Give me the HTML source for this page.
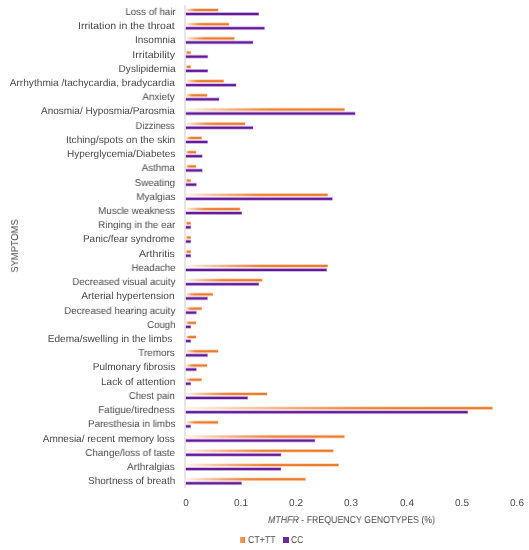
<!DOCTYPE html>
<html><head><meta charset="utf-8"><style>
html,body{margin:0;padding:0;background:#fff;}
body{width:529px;height:550px;position:relative;overflow:hidden;font-family:"Liberation Sans",sans-serif;color:#494949;text-rendering:geometricPrecision;}
div{position:absolute;}
.lb,.tk,.xt,.yt,.lg{will-change:transform;}
.lb{right:353.80px;font-size:10.0px;line-height:0;white-space:nowrap;transform-origin:100% 50%;}
.tk{top:504.1px;font-size:10.0px;line-height:0;transform:translate(-50%,0);}
.xt{left:267.7px;top:520.7px;font-size:10.0px;line-height:0;white-space:nowrap;transform-origin:0 0;transform:scaleX(0.88);}
.yt{left:15.5px;top:245.7px;font-size:10.0px;line-height:0;white-space:nowrap;transform:translate(-50%,0) rotate(-90deg) scaleX(0.93);}
.lg{top:540.9px;font-size:10.0px;line-height:0;white-space:nowrap;transform-origin:0 0;}
.sq{width:5.5px;height:5.5px;}
</style></head><body>
<svg width="529" height="550" style="position:absolute;left:0;top:0">
<defs><linearGradient id="og0" x1="0" y1="0" x2="1" y2="0"><stop offset="0.000" stop-color="#fdf3ec"/><stop offset="0.090" stop-color="#f8caa9"/><stop offset="0.180" stop-color="#f3a673"/><stop offset="0.288" stop-color="#ee8439"/><stop offset="0.360" stop-color="#ed7d31"/><stop offset="0.600" stop-color="#ec7a2d"/></linearGradient><linearGradient id="og1" x1="0" y1="0" x2="1" y2="0"><stop offset="0.000" stop-color="#fdf3ec"/><stop offset="0.101" stop-color="#f8caa9"/><stop offset="0.201" stop-color="#f3a673"/><stop offset="0.322" stop-color="#ee8439"/><stop offset="0.403" stop-color="#ed7d31"/><stop offset="0.671" stop-color="#ec7a2d"/></linearGradient><linearGradient id="og2" x1="0" y1="0" x2="1" y2="0"><stop offset="0.000" stop-color="#fdf3ec"/><stop offset="0.108" stop-color="#f8caa9"/><stop offset="0.215" stop-color="#f3a673"/><stop offset="0.345" stop-color="#ee8439"/><stop offset="0.431" stop-color="#ed7d31"/><stop offset="0.718" stop-color="#ec7a2d"/></linearGradient><linearGradient id="og3" x1="0" y1="0" x2="1" y2="0"><stop offset="0.000" stop-color="#fdf3ec"/><stop offset="0.090" stop-color="#f8caa9"/><stop offset="0.180" stop-color="#f3a673"/><stop offset="0.288" stop-color="#ee8439"/><stop offset="0.360" stop-color="#ed7d31"/><stop offset="0.600" stop-color="#ec7a2d"/></linearGradient><linearGradient id="og4" x1="0" y1="0" x2="1" y2="0"><stop offset="0.000" stop-color="#fdf3ec"/><stop offset="0.090" stop-color="#f8caa9"/><stop offset="0.180" stop-color="#f3a673"/><stop offset="0.288" stop-color="#ee8439"/><stop offset="0.360" stop-color="#ed7d31"/><stop offset="0.600" stop-color="#ec7a2d"/></linearGradient><linearGradient id="og5" x1="0" y1="0" x2="1" y2="0"><stop offset="0.000" stop-color="#fdf3ec"/><stop offset="0.094" stop-color="#f8caa9"/><stop offset="0.187" stop-color="#f3a673"/><stop offset="0.300" stop-color="#ee8439"/><stop offset="0.374" stop-color="#ed7d31"/><stop offset="0.624" stop-color="#ec7a2d"/></linearGradient><linearGradient id="og6" x1="0" y1="0" x2="1" y2="0"><stop offset="0.000" stop-color="#fdf3ec"/><stop offset="0.090" stop-color="#f8caa9"/><stop offset="0.180" stop-color="#f3a673"/><stop offset="0.288" stop-color="#ee8439"/><stop offset="0.360" stop-color="#ed7d31"/><stop offset="0.600" stop-color="#ec7a2d"/></linearGradient><linearGradient id="og7" x1="0" y1="0" x2="1" y2="0"><stop offset="0.000" stop-color="#fdf3ec"/><stop offset="0.161" stop-color="#f8caa9"/><stop offset="0.321" stop-color="#f3a673"/><stop offset="0.514" stop-color="#ee8439"/><stop offset="0.643" stop-color="#ed7d31"/><stop offset="1.000" stop-color="#ec7a2d"/></linearGradient><linearGradient id="og8" x1="0" y1="0" x2="1" y2="0"><stop offset="0.000" stop-color="#fdf3ec"/><stop offset="0.122" stop-color="#f8caa9"/><stop offset="0.244" stop-color="#f3a673"/><stop offset="0.391" stop-color="#ee8439"/><stop offset="0.489" stop-color="#ed7d31"/><stop offset="0.814" stop-color="#ec7a2d"/></linearGradient><linearGradient id="og9" x1="0" y1="0" x2="1" y2="0"><stop offset="0.000" stop-color="#fdf3ec"/><stop offset="0.090" stop-color="#f8caa9"/><stop offset="0.180" stop-color="#f3a673"/><stop offset="0.288" stop-color="#ee8439"/><stop offset="0.360" stop-color="#ed7d31"/><stop offset="0.600" stop-color="#ec7a2d"/></linearGradient><linearGradient id="og10" x1="0" y1="0" x2="1" y2="0"><stop offset="0.000" stop-color="#fdf3ec"/><stop offset="0.090" stop-color="#f8caa9"/><stop offset="0.180" stop-color="#f3a673"/><stop offset="0.288" stop-color="#ee8439"/><stop offset="0.360" stop-color="#ed7d31"/><stop offset="0.600" stop-color="#ec7a2d"/></linearGradient><linearGradient id="og11" x1="0" y1="0" x2="1" y2="0"><stop offset="0.000" stop-color="#fdf3ec"/><stop offset="0.090" stop-color="#f8caa9"/><stop offset="0.180" stop-color="#f3a673"/><stop offset="0.288" stop-color="#ee8439"/><stop offset="0.360" stop-color="#ed7d31"/><stop offset="0.600" stop-color="#ec7a2d"/></linearGradient><linearGradient id="og12" x1="0" y1="0" x2="1" y2="0"><stop offset="0.000" stop-color="#fdf3ec"/><stop offset="0.090" stop-color="#f8caa9"/><stop offset="0.180" stop-color="#f3a673"/><stop offset="0.288" stop-color="#ee8439"/><stop offset="0.360" stop-color="#ed7d31"/><stop offset="0.600" stop-color="#ec7a2d"/></linearGradient><linearGradient id="og13" x1="0" y1="0" x2="1" y2="0"><stop offset="0.000" stop-color="#fdf3ec"/><stop offset="0.158" stop-color="#f8caa9"/><stop offset="0.317" stop-color="#f3a673"/><stop offset="0.507" stop-color="#ee8439"/><stop offset="0.634" stop-color="#ed7d31"/><stop offset="1.000" stop-color="#ec7a2d"/></linearGradient><linearGradient id="og14" x1="0" y1="0" x2="1" y2="0"><stop offset="0.000" stop-color="#fdf3ec"/><stop offset="0.115" stop-color="#f8caa9"/><stop offset="0.231" stop-color="#f3a673"/><stop offset="0.369" stop-color="#ee8439"/><stop offset="0.461" stop-color="#ed7d31"/><stop offset="0.769" stop-color="#ec7a2d"/></linearGradient><linearGradient id="og15" x1="0" y1="0" x2="1" y2="0"><stop offset="0.000" stop-color="#fdf3ec"/><stop offset="0.090" stop-color="#f8caa9"/><stop offset="0.180" stop-color="#f3a673"/><stop offset="0.288" stop-color="#ee8439"/><stop offset="0.360" stop-color="#ed7d31"/><stop offset="0.600" stop-color="#ec7a2d"/></linearGradient><linearGradient id="og16" x1="0" y1="0" x2="1" y2="0"><stop offset="0.000" stop-color="#fdf3ec"/><stop offset="0.090" stop-color="#f8caa9"/><stop offset="0.180" stop-color="#f3a673"/><stop offset="0.288" stop-color="#ee8439"/><stop offset="0.360" stop-color="#ed7d31"/><stop offset="0.600" stop-color="#ec7a2d"/></linearGradient><linearGradient id="og17" x1="0" y1="0" x2="1" y2="0"><stop offset="0.000" stop-color="#fdf3ec"/><stop offset="0.090" stop-color="#f8caa9"/><stop offset="0.180" stop-color="#f3a673"/><stop offset="0.288" stop-color="#ee8439"/><stop offset="0.360" stop-color="#ed7d31"/><stop offset="0.600" stop-color="#ec7a2d"/></linearGradient><linearGradient id="og18" x1="0" y1="0" x2="1" y2="0"><stop offset="0.000" stop-color="#fdf3ec"/><stop offset="0.158" stop-color="#f8caa9"/><stop offset="0.317" stop-color="#f3a673"/><stop offset="0.507" stop-color="#ee8439"/><stop offset="0.634" stop-color="#ed7d31"/><stop offset="1.000" stop-color="#ec7a2d"/></linearGradient><linearGradient id="og19" x1="0" y1="0" x2="1" y2="0"><stop offset="0.000" stop-color="#fdf3ec"/><stop offset="0.145" stop-color="#f8caa9"/><stop offset="0.290" stop-color="#f3a673"/><stop offset="0.463" stop-color="#ee8439"/><stop offset="0.579" stop-color="#ed7d31"/><stop offset="0.965" stop-color="#ec7a2d"/></linearGradient><linearGradient id="og20" x1="0" y1="0" x2="1" y2="0"><stop offset="0.000" stop-color="#fdf3ec"/><stop offset="0.090" stop-color="#f8caa9"/><stop offset="0.180" stop-color="#f3a673"/><stop offset="0.288" stop-color="#ee8439"/><stop offset="0.360" stop-color="#ed7d31"/><stop offset="0.600" stop-color="#ec7a2d"/></linearGradient><linearGradient id="og21" x1="0" y1="0" x2="1" y2="0"><stop offset="0.000" stop-color="#fdf3ec"/><stop offset="0.090" stop-color="#f8caa9"/><stop offset="0.180" stop-color="#f3a673"/><stop offset="0.288" stop-color="#ee8439"/><stop offset="0.360" stop-color="#ed7d31"/><stop offset="0.600" stop-color="#ec7a2d"/></linearGradient><linearGradient id="og22" x1="0" y1="0" x2="1" y2="0"><stop offset="0.000" stop-color="#fdf3ec"/><stop offset="0.090" stop-color="#f8caa9"/><stop offset="0.180" stop-color="#f3a673"/><stop offset="0.288" stop-color="#ee8439"/><stop offset="0.360" stop-color="#ed7d31"/><stop offset="0.600" stop-color="#ec7a2d"/></linearGradient><linearGradient id="og23" x1="0" y1="0" x2="1" y2="0"><stop offset="0.000" stop-color="#fdf3ec"/><stop offset="0.090" stop-color="#f8caa9"/><stop offset="0.180" stop-color="#f3a673"/><stop offset="0.288" stop-color="#ee8439"/><stop offset="0.360" stop-color="#ed7d31"/><stop offset="0.600" stop-color="#ec7a2d"/></linearGradient><linearGradient id="og24" x1="0" y1="0" x2="1" y2="0"><stop offset="0.000" stop-color="#fdf3ec"/><stop offset="0.090" stop-color="#f8caa9"/><stop offset="0.180" stop-color="#f3a673"/><stop offset="0.288" stop-color="#ee8439"/><stop offset="0.360" stop-color="#ed7d31"/><stop offset="0.600" stop-color="#ec7a2d"/></linearGradient><linearGradient id="og25" x1="0" y1="0" x2="1" y2="0"><stop offset="0.000" stop-color="#fdf3ec"/><stop offset="0.090" stop-color="#f8caa9"/><stop offset="0.180" stop-color="#f3a673"/><stop offset="0.288" stop-color="#ee8439"/><stop offset="0.360" stop-color="#ed7d31"/><stop offset="0.600" stop-color="#ec7a2d"/></linearGradient><linearGradient id="og26" x1="0" y1="0" x2="1" y2="0"><stop offset="0.000" stop-color="#fdf3ec"/><stop offset="0.090" stop-color="#f8caa9"/><stop offset="0.180" stop-color="#f3a673"/><stop offset="0.288" stop-color="#ee8439"/><stop offset="0.360" stop-color="#ed7d31"/><stop offset="0.600" stop-color="#ec7a2d"/></linearGradient><linearGradient id="og27" x1="0" y1="0" x2="1" y2="0"><stop offset="0.000" stop-color="#fdf3ec"/><stop offset="0.150" stop-color="#f8caa9"/><stop offset="0.300" stop-color="#f3a673"/><stop offset="0.480" stop-color="#ee8439"/><stop offset="0.601" stop-color="#ed7d31"/><stop offset="1.000" stop-color="#ec7a2d"/></linearGradient><linearGradient id="og28" x1="0" y1="0" x2="1" y2="0"><stop offset="0.000" stop-color="#fdf3ec"/><stop offset="0.180" stop-color="#f8caa9"/><stop offset="0.360" stop-color="#f3a673"/><stop offset="0.576" stop-color="#ee8439"/><stop offset="0.720" stop-color="#ed7d31"/><stop offset="1.000" stop-color="#ec7a2d"/></linearGradient><linearGradient id="og29" x1="0" y1="0" x2="1" y2="0"><stop offset="0.000" stop-color="#fdf3ec"/><stop offset="0.090" stop-color="#f8caa9"/><stop offset="0.180" stop-color="#f3a673"/><stop offset="0.288" stop-color="#ee8439"/><stop offset="0.360" stop-color="#ed7d31"/><stop offset="0.600" stop-color="#ec7a2d"/></linearGradient><linearGradient id="og30" x1="0" y1="0" x2="1" y2="0"><stop offset="0.000" stop-color="#fdf3ec"/><stop offset="0.161" stop-color="#f8caa9"/><stop offset="0.321" stop-color="#f3a673"/><stop offset="0.514" stop-color="#ee8439"/><stop offset="0.643" stop-color="#ed7d31"/><stop offset="1.000" stop-color="#ec7a2d"/></linearGradient><linearGradient id="og31" x1="0" y1="0" x2="1" y2="0"><stop offset="0.000" stop-color="#fdf3ec"/><stop offset="0.159" stop-color="#f8caa9"/><stop offset="0.318" stop-color="#f3a673"/><stop offset="0.509" stop-color="#ee8439"/><stop offset="0.637" stop-color="#ed7d31"/><stop offset="1.000" stop-color="#ec7a2d"/></linearGradient><linearGradient id="og32" x1="0" y1="0" x2="1" y2="0"><stop offset="0.000" stop-color="#fdf3ec"/><stop offset="0.160" stop-color="#f8caa9"/><stop offset="0.320" stop-color="#f3a673"/><stop offset="0.512" stop-color="#ee8439"/><stop offset="0.640" stop-color="#ed7d31"/><stop offset="1.000" stop-color="#ec7a2d"/></linearGradient><linearGradient id="og33" x1="0" y1="0" x2="1" y2="0"><stop offset="0.000" stop-color="#fdf3ec"/><stop offset="0.155" stop-color="#f8caa9"/><stop offset="0.311" stop-color="#f3a673"/><stop offset="0.497" stop-color="#ee8439"/><stop offset="0.622" stop-color="#ed7d31"/><stop offset="1.000" stop-color="#ec7a2d"/></linearGradient>
<filter id="bl" x="-5%" y="-5%" width="110%" height="110%"><feGaussianBlur stdDeviation="0.0"/></filter></defs>
<g filter="none">
<rect x="184.5" y="5" width="1" height="483" fill="#cdcdcd"/>
<rect x="185.9" y="8.10" width="32.60" height="3.80" fill="url(#og0)" fill-opacity="0.3"/>
<rect x="185.9" y="9.00" width="32.10" height="2.00" fill="url(#og0)"/>
<rect x="185.9" y="12.05" width="73.20" height="3.90" fill="#64189c" fill-opacity="0.3"/>
<rect x="185.9" y="12.95" width="72.70" height="2.10" fill="#64189c"/>
<rect x="185.9" y="22.32" width="43.50" height="3.80" fill="url(#og1)" fill-opacity="0.3"/>
<rect x="185.9" y="23.22" width="43.00" height="2.00" fill="url(#og1)"/>
<rect x="185.9" y="26.27" width="78.90" height="3.90" fill="#64189c" fill-opacity="0.3"/>
<rect x="185.9" y="27.17" width="78.40" height="2.10" fill="#64189c"/>
<rect x="185.9" y="36.54" width="48.80" height="3.80" fill="url(#og2)" fill-opacity="0.3"/>
<rect x="185.9" y="37.44" width="48.30" height="2.00" fill="url(#og2)"/>
<rect x="185.9" y="40.49" width="67.50" height="3.90" fill="#64189c" fill-opacity="0.3"/>
<rect x="185.9" y="41.39" width="67.00" height="2.10" fill="#64189c"/>
<rect x="185.9" y="50.76" width="5.20" height="3.80" fill="url(#og3)" fill-opacity="0.3"/>
<rect x="185.9" y="51.66" width="4.70" height="2.00" fill="url(#og3)"/>
<rect x="185.9" y="54.71" width="22.20" height="3.90" fill="#64189c" fill-opacity="0.3"/>
<rect x="185.9" y="55.61" width="21.70" height="2.10" fill="#64189c"/>
<rect x="185.9" y="64.98" width="5.20" height="3.80" fill="url(#og4)" fill-opacity="0.3"/>
<rect x="185.9" y="65.88" width="4.70" height="2.00" fill="url(#og4)"/>
<rect x="185.9" y="68.93" width="22.20" height="3.90" fill="#64189c" fill-opacity="0.3"/>
<rect x="185.9" y="69.83" width="21.70" height="2.10" fill="#64189c"/>
<rect x="185.9" y="79.20" width="38.20" height="3.80" fill="url(#og5)" fill-opacity="0.3"/>
<rect x="185.9" y="80.10" width="37.70" height="2.00" fill="url(#og5)"/>
<rect x="185.9" y="83.15" width="50.50" height="3.90" fill="#64189c" fill-opacity="0.3"/>
<rect x="185.9" y="84.05" width="50.00" height="2.10" fill="#64189c"/>
<rect x="185.9" y="93.42" width="21.60" height="3.80" fill="url(#og6)" fill-opacity="0.3"/>
<rect x="185.9" y="94.32" width="21.10" height="2.00" fill="url(#og6)"/>
<rect x="185.9" y="97.37" width="33.50" height="3.90" fill="#64189c" fill-opacity="0.3"/>
<rect x="185.9" y="98.27" width="33.00" height="2.10" fill="#64189c"/>
<rect x="185.9" y="107.64" width="159.00" height="3.80" fill="url(#og7)" fill-opacity="0.3"/>
<rect x="185.9" y="108.54" width="158.50" height="2.00" fill="url(#og7)"/>
<rect x="185.9" y="111.59" width="169.60" height="3.90" fill="#64189c" fill-opacity="0.3"/>
<rect x="185.9" y="112.49" width="169.10" height="2.10" fill="#64189c"/>
<rect x="185.9" y="121.86" width="59.60" height="3.80" fill="url(#og8)" fill-opacity="0.3"/>
<rect x="185.9" y="122.76" width="59.10" height="2.00" fill="url(#og8)"/>
<rect x="185.9" y="125.81" width="67.50" height="3.90" fill="#64189c" fill-opacity="0.3"/>
<rect x="185.9" y="126.71" width="67.00" height="2.10" fill="#64189c"/>
<rect x="185.9" y="136.08" width="16.10" height="3.80" fill="url(#og9)" fill-opacity="0.3"/>
<rect x="185.9" y="136.98" width="15.60" height="2.00" fill="url(#og9)"/>
<rect x="185.9" y="140.03" width="22.00" height="3.90" fill="#64189c" fill-opacity="0.3"/>
<rect x="185.9" y="140.93" width="21.50" height="2.10" fill="#64189c"/>
<rect x="185.9" y="150.30" width="10.50" height="3.80" fill="url(#og10)" fill-opacity="0.3"/>
<rect x="185.9" y="151.20" width="10.00" height="2.00" fill="url(#og10)"/>
<rect x="185.9" y="154.25" width="16.70" height="3.90" fill="#64189c" fill-opacity="0.3"/>
<rect x="185.9" y="155.15" width="16.20" height="2.10" fill="#64189c"/>
<rect x="185.9" y="164.52" width="10.50" height="3.80" fill="url(#og11)" fill-opacity="0.3"/>
<rect x="185.9" y="165.42" width="10.00" height="2.00" fill="url(#og11)"/>
<rect x="185.9" y="168.47" width="16.70" height="3.90" fill="#64189c" fill-opacity="0.3"/>
<rect x="185.9" y="169.37" width="16.20" height="2.10" fill="#64189c"/>
<rect x="185.9" y="178.74" width="5.20" height="3.80" fill="url(#og12)" fill-opacity="0.3"/>
<rect x="185.9" y="179.64" width="4.70" height="2.00" fill="url(#og12)"/>
<rect x="185.9" y="182.69" width="10.80" height="3.90" fill="#64189c" fill-opacity="0.3"/>
<rect x="185.9" y="183.59" width="10.30" height="2.10" fill="#64189c"/>
<rect x="185.9" y="192.96" width="142.20" height="3.80" fill="url(#og13)" fill-opacity="0.3"/>
<rect x="185.9" y="193.86" width="141.70" height="2.00" fill="url(#og13)"/>
<rect x="185.9" y="196.91" width="146.80" height="3.90" fill="#64189c" fill-opacity="0.3"/>
<rect x="185.9" y="197.81" width="146.30" height="2.10" fill="#64189c"/>
<rect x="185.9" y="207.18" width="54.50" height="3.80" fill="url(#og14)" fill-opacity="0.3"/>
<rect x="185.9" y="208.08" width="54.00" height="2.00" fill="url(#og14)"/>
<rect x="185.9" y="211.13" width="56.20" height="3.90" fill="#64189c" fill-opacity="0.3"/>
<rect x="185.9" y="212.03" width="55.70" height="2.10" fill="#64189c"/>
<rect x="185.9" y="221.40" width="5.20" height="3.80" fill="url(#og15)" fill-opacity="0.3"/>
<rect x="185.9" y="222.30" width="4.70" height="2.00" fill="url(#og15)"/>
<rect x="185.9" y="225.35" width="5.20" height="3.90" fill="#64189c" fill-opacity="0.3"/>
<rect x="185.9" y="226.25" width="4.70" height="2.10" fill="#64189c"/>
<rect x="185.9" y="235.62" width="5.20" height="3.80" fill="url(#og16)" fill-opacity="0.3"/>
<rect x="185.9" y="236.52" width="4.70" height="2.00" fill="url(#og16)"/>
<rect x="185.9" y="239.57" width="5.20" height="3.90" fill="#64189c" fill-opacity="0.3"/>
<rect x="185.9" y="240.47" width="4.70" height="2.10" fill="#64189c"/>
<rect x="185.9" y="249.84" width="5.20" height="3.80" fill="url(#og17)" fill-opacity="0.3"/>
<rect x="185.9" y="250.74" width="4.70" height="2.00" fill="url(#og17)"/>
<rect x="185.9" y="253.79" width="5.20" height="3.90" fill="#64189c" fill-opacity="0.3"/>
<rect x="185.9" y="254.69" width="4.70" height="2.10" fill="#64189c"/>
<rect x="185.9" y="264.06" width="142.20" height="3.80" fill="url(#og18)" fill-opacity="0.3"/>
<rect x="185.9" y="264.96" width="141.70" height="2.00" fill="url(#og18)"/>
<rect x="185.9" y="268.01" width="141.10" height="3.90" fill="#64189c" fill-opacity="0.3"/>
<rect x="185.9" y="268.91" width="140.60" height="2.10" fill="#64189c"/>
<rect x="185.9" y="278.28" width="76.60" height="3.80" fill="url(#og19)" fill-opacity="0.3"/>
<rect x="185.9" y="279.18" width="76.10" height="2.00" fill="url(#og19)"/>
<rect x="185.9" y="282.23" width="73.20" height="3.90" fill="#64189c" fill-opacity="0.3"/>
<rect x="185.9" y="283.13" width="72.70" height="2.10" fill="#64189c"/>
<rect x="185.9" y="292.50" width="27.30" height="3.80" fill="url(#og20)" fill-opacity="0.3"/>
<rect x="185.9" y="293.40" width="26.80" height="2.00" fill="url(#og20)"/>
<rect x="185.9" y="296.45" width="22.00" height="3.90" fill="#64189c" fill-opacity="0.3"/>
<rect x="185.9" y="297.35" width="21.50" height="2.10" fill="#64189c"/>
<rect x="185.9" y="306.72" width="16.10" height="3.80" fill="url(#og21)" fill-opacity="0.3"/>
<rect x="185.9" y="307.62" width="15.60" height="2.00" fill="url(#og21)"/>
<rect x="185.9" y="310.67" width="10.80" height="3.90" fill="#64189c" fill-opacity="0.3"/>
<rect x="185.9" y="311.57" width="10.30" height="2.10" fill="#64189c"/>
<rect x="185.9" y="320.94" width="10.50" height="3.80" fill="url(#og22)" fill-opacity="0.3"/>
<rect x="185.9" y="321.84" width="10.00" height="2.00" fill="url(#og22)"/>
<rect x="185.9" y="324.89" width="5.20" height="3.90" fill="#64189c" fill-opacity="0.3"/>
<rect x="185.9" y="325.79" width="4.70" height="2.10" fill="#64189c"/>
<rect x="185.9" y="335.16" width="10.50" height="3.80" fill="url(#og23)" fill-opacity="0.3"/>
<rect x="185.9" y="336.06" width="10.00" height="2.00" fill="url(#og23)"/>
<rect x="185.9" y="339.11" width="5.20" height="3.90" fill="#64189c" fill-opacity="0.3"/>
<rect x="185.9" y="340.01" width="4.70" height="2.10" fill="#64189c"/>
<rect x="185.9" y="349.38" width="32.60" height="3.80" fill="url(#og24)" fill-opacity="0.3"/>
<rect x="185.9" y="350.28" width="32.10" height="2.00" fill="url(#og24)"/>
<rect x="185.9" y="353.33" width="22.00" height="3.90" fill="#64189c" fill-opacity="0.3"/>
<rect x="185.9" y="354.23" width="21.50" height="2.10" fill="#64189c"/>
<rect x="185.9" y="363.60" width="21.60" height="3.80" fill="url(#og25)" fill-opacity="0.3"/>
<rect x="185.9" y="364.50" width="21.10" height="2.00" fill="url(#og25)"/>
<rect x="185.9" y="367.55" width="10.80" height="3.90" fill="#64189c" fill-opacity="0.3"/>
<rect x="185.9" y="368.45" width="10.30" height="2.10" fill="#64189c"/>
<rect x="185.9" y="377.82" width="16.10" height="3.80" fill="url(#og26)" fill-opacity="0.3"/>
<rect x="185.9" y="378.72" width="15.60" height="2.00" fill="url(#og26)"/>
<rect x="185.9" y="381.77" width="5.20" height="3.90" fill="#64189c" fill-opacity="0.3"/>
<rect x="185.9" y="382.67" width="4.70" height="2.10" fill="#64189c"/>
<rect x="185.9" y="392.04" width="81.50" height="3.80" fill="url(#og27)" fill-opacity="0.3"/>
<rect x="185.9" y="392.94" width="81.00" height="2.00" fill="url(#og27)"/>
<rect x="185.9" y="395.99" width="62.10" height="3.90" fill="#64189c" fill-opacity="0.3"/>
<rect x="185.9" y="396.89" width="61.60" height="2.10" fill="#64189c"/>
<rect x="185.9" y="406.26" width="306.90" height="3.80" fill="url(#og28)" fill-opacity="0.3"/>
<rect x="185.9" y="407.16" width="306.40" height="2.00" fill="url(#og28)"/>
<rect x="185.9" y="410.21" width="282.20" height="3.90" fill="#64189c" fill-opacity="0.3"/>
<rect x="185.9" y="411.11" width="281.70" height="2.10" fill="#64189c"/>
<rect x="185.9" y="420.48" width="32.60" height="3.80" fill="url(#og29)" fill-opacity="0.3"/>
<rect x="185.9" y="421.38" width="32.10" height="2.00" fill="url(#og29)"/>
<rect x="185.9" y="424.43" width="5.20" height="3.90" fill="#64189c" fill-opacity="0.3"/>
<rect x="185.9" y="425.33" width="4.70" height="2.10" fill="#64189c"/>
<rect x="185.9" y="434.70" width="158.90" height="3.80" fill="url(#og30)" fill-opacity="0.3"/>
<rect x="185.9" y="435.60" width="158.40" height="2.00" fill="url(#og30)"/>
<rect x="185.9" y="438.65" width="129.30" height="3.90" fill="#64189c" fill-opacity="0.3"/>
<rect x="185.9" y="439.55" width="128.80" height="2.10" fill="#64189c"/>
<rect x="185.9" y="448.92" width="147.80" height="3.80" fill="url(#og31)" fill-opacity="0.3"/>
<rect x="185.9" y="449.82" width="147.30" height="2.00" fill="url(#og31)"/>
<rect x="185.9" y="452.87" width="95.40" height="3.90" fill="#64189c" fill-opacity="0.3"/>
<rect x="185.9" y="453.77" width="94.90" height="2.10" fill="#64189c"/>
<rect x="185.9" y="463.14" width="153.10" height="3.80" fill="url(#og32)" fill-opacity="0.3"/>
<rect x="185.9" y="464.04" width="152.60" height="2.00" fill="url(#og32)"/>
<rect x="185.9" y="467.09" width="95.40" height="3.90" fill="#64189c" fill-opacity="0.3"/>
<rect x="185.9" y="467.99" width="94.90" height="2.10" fill="#64189c"/>
<rect x="185.9" y="477.36" width="120.00" height="3.80" fill="url(#og33)" fill-opacity="0.3"/>
<rect x="185.9" y="478.26" width="119.50" height="2.00" fill="url(#og33)"/>
<rect x="185.9" y="481.31" width="56.00" height="3.90" fill="#64189c" fill-opacity="0.3"/>
<rect x="185.9" y="482.21" width="55.50" height="2.10" fill="#64189c"/>
</g></svg>
<div class="lb" style="top:12.90px;right:353.80px;transform:scaleX(0.9725)">Loss of hair</div>
<div class="lb" style="top:27.12px;right:353.80px;transform:scaleX(1.0543)">Irritation in the throat</div>
<div class="lb" style="top:41.34px;right:353.80px;transform:scaleX(1.0000)">Insomnia</div>
<div class="lb" style="top:55.56px;right:353.80px;transform:scaleX(1.0700)">Irritability</div>
<div class="lb" style="top:69.78px;right:353.80px;transform:scaleX(1.0071)">Dyslipidemia</div>
<div class="lb" style="top:84.00px;right:353.80px;transform:scaleX(1.0141)">Arrhythmia /tachycardia, bradycardia</div>
<div class="lb" style="top:98.22px;right:353.80px;transform:scaleX(0.9879)">Anxiety</div>
<div class="lb" style="top:112.44px;right:353.80px;transform:scaleX(1.0000)">Anosmia/ Hyposmia/Parosmia</div>
<div class="lb" style="top:126.66px;right:353.80px;transform:scaleX(0.9163)">Dizziness</div>
<div class="lb" style="top:140.88px;right:353.80px;transform:scaleX(1.0196)">Itching/spots on the skin</div>
<div class="lb" style="top:155.10px;right:353.80px;transform:scaleX(1.0009)">Hyperglycemia/Diabetes</div>
<div class="lb" style="top:169.32px;right:353.80px;transform:scaleX(0.9794)">Asthma</div>
<div class="lb" style="top:183.54px;right:353.80px;transform:scaleX(0.9854)">Sweating</div>
<div class="lb" style="top:197.76px;right:353.80px;transform:scaleX(0.9923)">Myalgias</div>
<div class="lb" style="top:211.98px;right:353.80px;transform:scaleX(0.9722)">Muscle weakness</div>
<div class="lb" style="top:226.20px;right:353.80px;transform:scaleX(0.9846)">Ringing in the ear</div>
<div class="lb" style="top:240.42px;right:353.80px;transform:scaleX(1.0011)">Panic/fear syndrome</div>
<div class="lb" style="top:254.64px;right:353.80px;transform:scaleX(1.0588)">Arthritis</div>
<div class="lb" style="top:268.86px;right:353.80px;transform:scaleX(0.9667)">Headache</div>
<div class="lb" style="top:283.08px;right:353.80px;transform:scaleX(0.9781)">Decreased visual acuity</div>
<div class="lb" style="top:297.30px;right:353.80px;transform:scaleX(1.0196)">Arterial hypertension</div>
<div class="lb" style="top:311.52px;right:353.80px;transform:scaleX(0.9805)">Decreased hearing acuity</div>
<div class="lb" style="top:325.74px;right:353.80px;transform:scaleX(0.9586)">Cough</div>
<div class="lb" style="top:339.96px;right:356.70px;transform:scaleX(1.0106)">Edema/swelling in the limbs</div>
<div class="lb" style="top:354.18px;right:353.80px;transform:scaleX(0.9892)">Tremors</div>
<div class="lb" style="top:368.40px;right:353.80px;transform:scaleX(1.0037)">Pulmonary fibrosis</div>
<div class="lb" style="top:382.62px;right:353.80px;transform:scaleX(1.0151)">Lack of attention</div>
<div class="lb" style="top:396.84px;right:353.80px;transform:scaleX(0.9625)">Chest pain</div>
<div class="lb" style="top:411.06px;right:353.80px;transform:scaleX(0.9974)">Fatigue/tiredness</div>
<div class="lb" style="top:425.28px;right:353.80px;transform:scaleX(0.9775)">Paresthesia in limbs</div>
<div class="lb" style="top:439.50px;right:353.80px;transform:scaleX(1.0023)">Amnesia/ recent memory loss</div>
<div class="lb" style="top:453.72px;right:353.80px;transform:scaleX(0.9857)">Change/loss of taste</div>
<div class="lb" style="top:467.94px;right:353.80px;transform:scaleX(0.9979)">Arthralgias</div>
<div class="lb" style="top:482.16px;right:353.80px;transform:scaleX(1.0000)">Shortness of breath</div>
<div class="tk" style="left:185.90px">0</div>
<div class="tk" style="left:240.63px">0.1</div>
<div class="tk" style="left:295.96px">0.2</div>
<div class="tk" style="left:351.29px">0.3</div>
<div class="tk" style="left:406.62px">0.4</div>
<div class="tk" style="left:461.95px">0.5</div>
<div class="tk" style="left:517.28px">0.6</div>
<div class="xt"><i>MTHFR</i> - FREQUENCY GENOTYPES (%)</div>
<div class="yt">SYMPTOMS</div>
<div class="sq" style="left:239.8px;top:537.3px;background:linear-gradient(to right,#f5a676,#ed7d31)"></div>
<div class="lg" style="left:248.1px;transform:scaleX(0.875)">CT+TT</div>
<div class="sq" style="left:283.0px;top:537.1px;background:#6d2a9f;width:5.9px;height:5.9px"></div>
<div class="lg" style="left:291.0px;transform:scaleX(0.84)">CC</div>
</body></html>
